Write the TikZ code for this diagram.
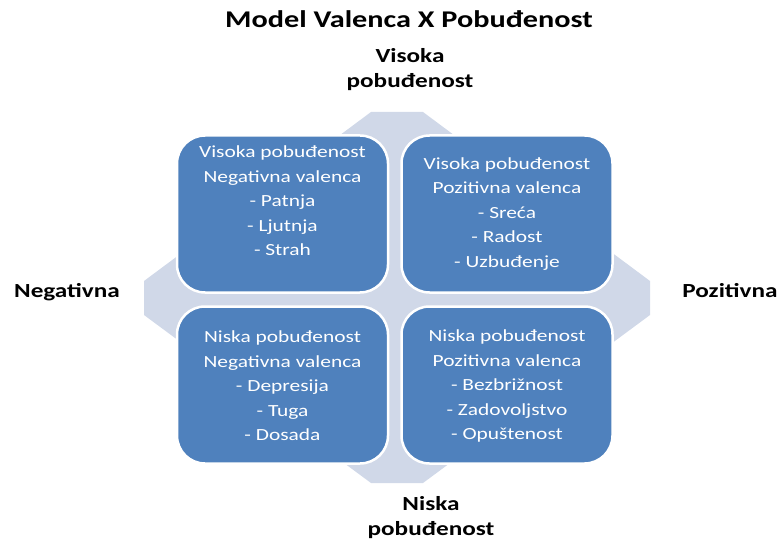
\documentclass[tikz,border=0pt]{standalone}
\usepackage{fontspec}
\setmainfont{Carlito}[FakeStretch=1.26]
\definecolor{boxblue}{HTML}{4F81BD}
\definecolor{bgcol}{HTML}{D0D8E8}
\begin{document}
\begin{tikzpicture}[x=1pt,y=-1pt,
  quad/.style={draw=white, line width=2.5pt, fill=boxblue, rounded corners=28pt,
    minimum width=211pt, minimum height=157pt, inner sep=0pt},
  qtext/.style={text=white, align=center, inner sep=0pt,
    font=\fontsize{17}{24.5}\selectfont},
  axislabel/.style={align=center, inner sep=0pt,
    font=\fontsize{20}{25}\selectfont\bfseries},
  titletext/.style={inner sep=0pt, font=\fontsize{24}{28}\selectfont\bfseries}]
\useasboundingbox (0,0) rectangle (782,540);
% background octagon
\fill[bgcol] (371,112) -- (423,112) -- (650,281) -- (650,315) -- (423,483)
  -- (371,483) -- (144,315) -- (144,281) -- cycle;
% quadrants
\node[quad] (tl) at (282.5,214) {};
\node[quad] (tr) at (507,214) {};
\node[quad] (bl) at (282.5,385) {};
\node[quad] (br) at (507,385) {};
\node[qtext] (tlt) at (282.5,201) {Visoka pobuđenost\\Negativna valenca\\- Patnja\\- Ljutnja\\- Strah};
\node[qtext] (trt) at (507,214) {Visoka pobuđenost\\Pozitivna valenca\\- Sreća\\- Radost\\- Uzbuđenje};
\node[qtext] (blt) at (282.5,386) {Niska pobuđenost\\Negativna valenca\\- Depresija\\- Tuga\\- Dosada};
\node[qtext] (brt) at (507,386) {Niska pobuđenost\\Pozitivna valenca\\- Bezbrižnost\\- Zadovoljstvo\\- Opuštenost};
% labels
\node[titletext] (title) at (409,19) {Model Valenca X Pobuđenost};
\node[axislabel] (top) at (410,69.5) {Visoka\\pobuđenost};
\node[axislabel] (bottom) at (431,517.5) {Niska\\pobuđenost};
\node[axislabel] (left) at (67,292) {Negativna};
\node[axislabel] (right) at (730,291) {Pozitivna};
\end{tikzpicture}
\end{document}
